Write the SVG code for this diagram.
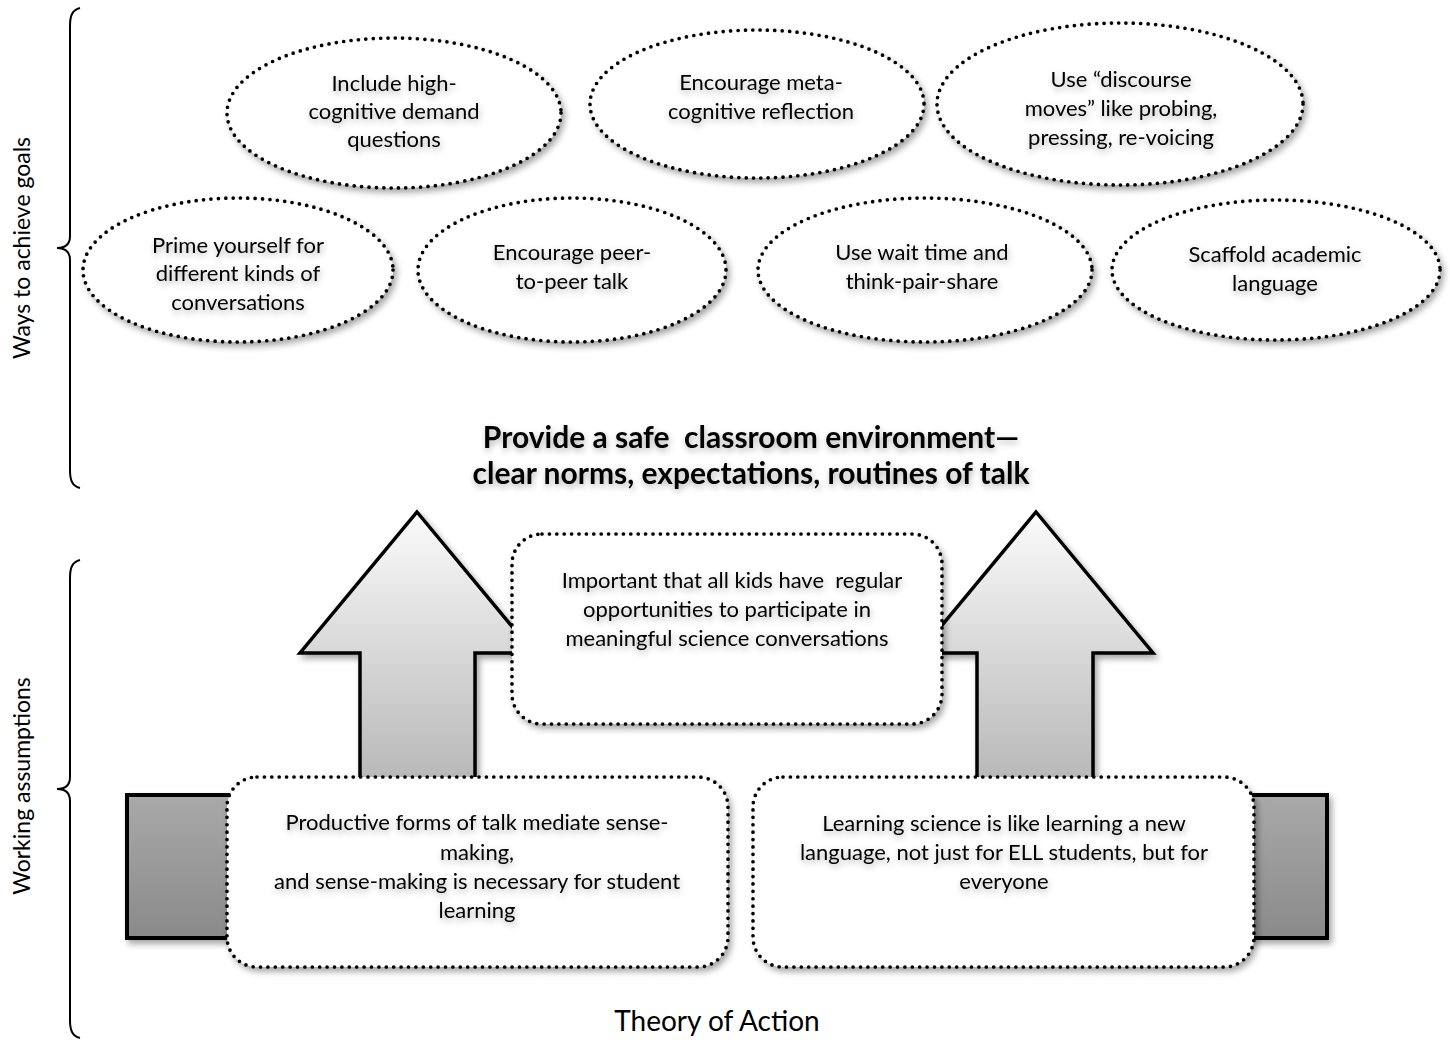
<svg xmlns="http://www.w3.org/2000/svg" width="1450" height="1040" viewBox="0 0 1450 1040">
<defs>
<linearGradient id="arrowGrad" x1="0" y1="0" x2="0" y2="1">
<stop offset="0" stop-color="#fbfbfb"/>
<stop offset="1" stop-color="#b3b3b3"/>
</linearGradient>
<linearGradient id="rectGrad" x1="0" y1="0" x2="0" y2="1">
<stop offset="0" stop-color="#a9a9a9"/>
<stop offset="1" stop-color="#8a8a8a"/>
</linearGradient>
<filter id="shadow" x="-10%" y="-10%" width="130%" height="130%">
<feDropShadow dx="3" dy="4" stdDeviation="3" flood-color="#000" flood-opacity="0.35"/>
</filter>
<filter id="tshadow" x="-10%" y="-30%" width="120%" height="170%">
<feDropShadow dx="1" dy="3" stdDeviation="3" flood-color="#000" flood-opacity="0.3"/>
</filter>
</defs>
<style>
.dot{fill:#fff;stroke:#000;stroke-width:3.7;stroke-dasharray:0 7.4;stroke-linecap:round;filter:url(#shadow)}
.arrow{fill:url(#arrowGrad);stroke:#000;stroke-width:3.5;stroke-linejoin:miter;filter:url(#shadow)}
.grect{fill:url(#rectGrad);stroke:#000;stroke-width:4;filter:url(#shadow)}
.brace{fill:none;stroke:#000;stroke-width:2}
text{font-family:Lato,"Liberation Sans",sans-serif;fill:#000;text-anchor:middle;white-space:pre}
.t{font-size:22px;filter:url(#tshadow)}
.side{font-size:23px}
.title{font-size:30px;font-weight:bold;filter:url(#tshadow)}
.foot{font-size:28px}
</style>
<rect width="1450" height="1040" fill="#fff"/>

<g id="braces">
<path class="brace" d="M80,8 C72,10 70,16 70,26 L70,236 C70,244 65,248 57,248 C65,248 70,252 70,260 L70,470 C70,480 72,486 80,488"/>
<path class="brace" d="M80,560 C72,562 70,568 70,578 L70,777 C70,785 65,789 57,789 C65,789 70,793 70,801 L70,1020 C70,1030 72,1036 80,1038"/>
<text class="side" transform="translate(30,248) rotate(-90)">Ways to achieve goals</text>
<text class="side" transform="translate(30,786) rotate(-90)">Working assumptions</text>
</g>

<g id="e1"><ellipse class="dot" cx="394" cy="113" rx="167" ry="75"/>
<text class="t" x="394" y="91">Include high-</text><text class="t" x="394" y="119">cognitive demand</text><text class="t" x="394" y="147">questions</text></g>
<g id="e2"><ellipse class="dot" cx="757" cy="104" rx="167" ry="74"/>
<text class="t" x="761" y="90">Encourage meta-</text><text class="t" x="761" y="119">cognitive reflection</text></g>
<g id="e3"><ellipse class="dot" cx="1120" cy="104" rx="183" ry="81"/>
<text class="t" x="1121" y="87">Use “discourse</text><text class="t" x="1121" y="116">moves” like probing,</text><text class="t" x="1121" y="145">pressing, re-voicing</text></g>

<g id="e4"><ellipse class="dot" cx="238" cy="270" rx="155" ry="72"/>
<text class="t" x="238" y="253">Prime yourself for</text><text class="t" x="238" y="281">different kinds of</text><text class="t" x="238" y="310">conversations</text></g>
<g id="e5"><ellipse class="dot" cx="572" cy="270" rx="154" ry="72"/>
<text class="t" x="572" y="260">Encourage peer-</text><text class="t" x="572" y="289">to-peer talk</text></g>
<g id="e6"><ellipse class="dot" cx="925" cy="270" rx="167" ry="72"/>
<text class="t" x="922" y="260">Use wait time and</text><text class="t" x="922" y="289">think-pair-share</text></g>
<g id="e7"><ellipse class="dot" cx="1276" cy="270" rx="164" ry="70"/>
<text class="t" x="1275" y="262">Scaffold academic</text><text class="t" x="1275" y="291">language</text></g>

<g id="goal">
<text class="title" x="751" y="448">Provide a safe  classroom environment—</text>
<text class="title" x="751" y="484">clear norms, expectations, routines of talk</text>
</g>

<g id="arrows">
<path class="arrow" d="M417,512 L534,653 L475,653 L475,800 L360,800 L360,653 L300,653 Z"/>
<path class="arrow" d="M1036,512 L1153,653 L1093,653 L1093,800 L977,800 L977,653 L919,653 Z"/>
<rect class="grect" x="127" y="795" width="140" height="143"/>
<rect class="grect" x="1200" y="795" width="127" height="143"/>
</g>

<g id="box-top"><rect class="dot" x="512" y="534" width="430" height="190" rx="30" ry="30"/>
<text class="t" x="732" y="588">Important that all kids have  regular</text>
<text class="t" x="727" y="617">opportunities to participate in</text>
<text class="t" x="727" y="646">meaningful science conversations</text></g>

<g id="box-left"><rect class="dot" x="227" y="777" width="501" height="190" rx="30" ry="30"/>
<text class="t" x="477" y="830">Productive forms of talk mediate sense-</text>
<text class="t" x="477" y="860">making,</text>
<text class="t" x="477" y="889">and sense-making is necessary for student</text>
<text class="t" x="477" y="918">learning</text></g>

<g id="box-right"><rect class="dot" x="753" y="777" width="501" height="190" rx="30" ry="30"/>
<text class="t" x="1004" y="831">Learning science is like learning a new</text>
<text class="t" x="1004" y="860">language, not just for ELL students, but for</text>
<text class="t" x="1004" y="889">everyone</text></g>

<text class="foot" x="717" y="1031">Theory of Action</text>
</svg>
